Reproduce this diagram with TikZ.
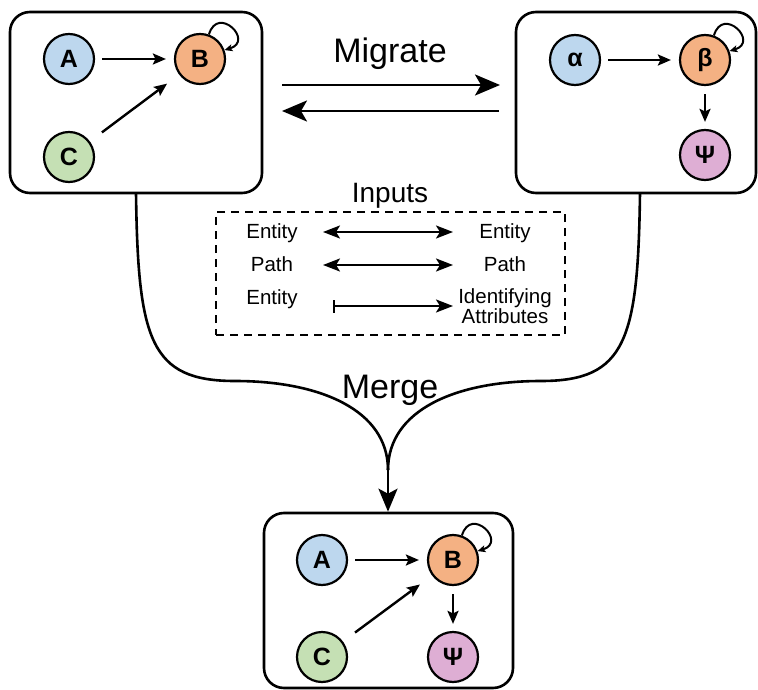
\documentclass[tikz,border=0pt]{standalone}
\usepackage{fontspec}
\setmainfont{Liberation Sans}
\usetikzlibrary{arrows.meta}
\definecolor{cA}{RGB}{189,215,238}
\definecolor{cB}{RGB}{244,177,131}
\definecolor{cC}{RGB}{197,224,180}
\definecolor{cP}{RGB}{222,174,212}
\begin{document}
\begin{tikzpicture}[x=1pt,y=-1pt,
  box/.style={draw, line width=2.6pt, rounded corners=20pt, inner sep=0pt},
  vert/.style={circle, draw, line width=2.2pt, minimum size=50pt, inner sep=0pt,
    font=\fontsize{25}{25}\selectfont\bfseries},
  edg/.style={line width=2.4pt, -{Stealth[length=13pt,width=11pt,inset=2.5pt]}},
  loopedg/.style={line width=2pt, -{Stealth[length=8pt,width=7pt,inset=2pt]}},
  big/.style={line width=2.8pt, -{Stealth[length=25pt,width=21pt,inset=6pt]}},
  inp/.style={line width=2.4pt, {Stealth[length=17pt,width=13pt,inset=4pt]}-{Stealth[length=17pt,width=13pt,inset=4pt]}},
  inpbar/.style={line width=2.4pt, {Bar[width=13pt,line width=2pt]}-{Stealth[length=17pt,width=13pt,inset=4pt]}},
  lbl/.style={anchor=base, inner sep=0pt, font=\fontsize{20.5}{20}\selectfont},
  title/.style={anchor=base, inner sep=0pt, font=\fontsize{34}{34}\selectfont},
]
\useasboundingbox (0,0) rectangle (758,690);

% boxes
\node[box, minimum width=252pt, minimum height=181pt] (L) at (136,102.5) {};
\node[box, minimum width=240pt, minimum height=181pt] (R) at (636,102.5) {};
\node[box, minimum width=249pt, minimum height=175pt] (M) at (388.5,600.5) {};

% left graph
\node[vert, fill=cA] (A1) at (69,59) {A};
\node[vert, fill=cB] (B1) at (200,59) {B};
\node[vert, fill=cC] (C1) at (69,157) {C};
\draw[edg, shorten <=7pt, shorten >=8pt] (A1) -- (B1);
\draw[edg, shorten <=15pt, shorten >=15pt] (C1) -- (B1);
\draw[loopedg] (B1.70) .. controls +(9,-30) and +(30,-9) .. (B1.20);

% right graph
\node[vert, fill=cA] (a2) at (575,60) {α};
\node[vert, fill=cB] (b2) at (705,60) {β};
\node[vert, fill=cP] (p2) at (705,155) {Ψ};
\draw[edg, shorten <=7pt, shorten >=8pt] (a2) -- (b2);
\draw[edg, shorten <=8pt, shorten >=7pt] (b2) -- (p2);
\draw[loopedg] (b2.70) .. controls +(9,-30) and +(30,-9) .. (b2.20);

% bottom graph
\node[vert, fill=cA] (A3) at (322,560) {A};
\node[vert, fill=cB] (B3) at (453,560) {B};
\node[vert, fill=cC] (C3) at (322,657) {C};
\node[vert, fill=cP] (P3) at (453,657) {Ψ};
\draw[edg, shorten <=7pt, shorten >=8pt] (A3) -- (B3);
\draw[edg, shorten <=15pt, shorten >=15pt] (C3) -- (B3);
\draw[edg, shorten <=8pt, shorten >=7pt] (B3) -- (P3);
\draw[loopedg] (B3.70) .. controls +(9,-30) and +(30,-9) .. (B3.20);

% migrate
\node[title] (mig) at (390,63) {Migrate};
\coordinate (m1a) at (282,85);
\coordinate (m1b) at (500,85);
\coordinate (m2a) at (499,111);
\coordinate (m2b) at (282,111);
\draw[big] (m1a) -- (m1b);
\draw[big] (m2a) -- (m2b);

% inputs
\node[anchor=base, inner sep=0pt, font=\fontsize{28}{28}\selectfont] (inp) at (390,202) {Inputs};
\node[draw, dash pattern=on 8pt off 6pt, line width=2.2pt, minimum width=349pt, minimum height=123pt, inner sep=0pt] (D) at (390.5,273.5) {};
\node[lbl] (e1) at (272,238) {Entity};
\node[lbl] (e1r) at (505,238) {Entity};
\node[lbl] (p1) at (272,271) {Path};
\node[lbl] (p1r) at (505,271) {Path};
\node[lbl] (e3) at (272,304.5) {Entity};
\node[lbl, align=center, font=\fontsize{20.5}{17}\selectfont] (id) at (505,323.5) {Identifying\\Attributes};
\coordinate (r1a) at (323,232);
\coordinate (r1b) at (453,232);
\coordinate (r2a) at (323,265);
\coordinate (r2b) at (453,265);
\coordinate (r3a) at (333,306);
\coordinate (r3b) at (453,306);
\draw[inp] (r1a) -- (r1b);
\draw[inp] (r2a) -- (r2b);
\draw[inpbar] (r3a) -- (r3b);

% merge
\node[title] (mer) at (390,398) {Merge};
\coordinate (ls) at (136,193);
\coordinate (rs) at (640,193);
\coordinate (j) at (388,470);
\draw[line width=2.6pt] (ls) .. controls (138,340) and (150,381) .. (235,381)
   .. controls (320,381) and (388,410) .. (j);
\draw[line width=2.6pt] (rs) .. controls (638,340) and (626,381) .. (541,381)
   .. controls (456,381) and (388,410) .. (j);
\draw[line width=2.6pt, -{Stealth[length=23pt,width=19pt,inset=5pt]}] (j) -- (M.north -| j);
\end{tikzpicture}
\end{document}
